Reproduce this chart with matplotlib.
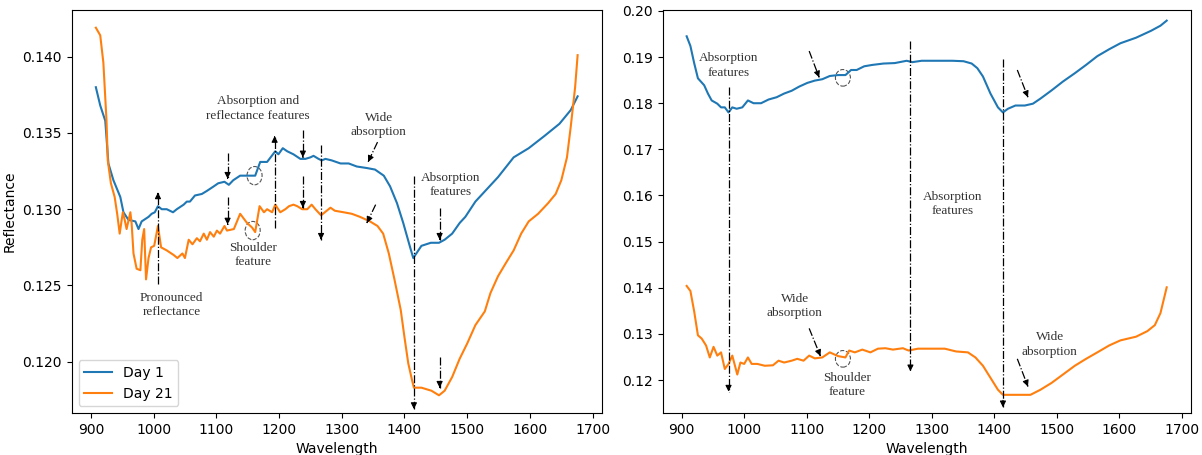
import matplotlib
matplotlib.use("Agg")
from matplotlib import pyplot as plt
from matplotlib.patches import Ellipse

# ---- left panel: spectra ----
wl_l1 = [908, 915, 923, 928, 936, 947, 952, 960, 971, 976, 981, 992, 997, 1002,
         1007, 1013, 1021, 1031, 1037, 1048, 1053, 1058, 1066, 1077, 1085, 1096,
         1103, 1113, 1120, 1127, 1138, 1148, 1156, 1162, 1170, 1181, 1194, 1199,
         1206, 1213, 1223, 1234, 1242, 1250, 1255, 1263, 1268, 1274, 1284, 1298,
         1311, 1324, 1340, 1353, 1367, 1377, 1388, 1398, 1409, 1414, 1427, 1442,
         1455, 1464, 1476, 1488, 1497, 1513, 1531, 1549, 1574, 1598, 1623, 1647,
         1665, 1676]
day1_l = [0.1380, 0.1368, 0.1358, 0.1330, 0.1319, 0.1308, 0.1298, 0.1293, 0.1292,
          0.1287, 0.1292, 0.1295, 0.1297, 0.1298, 0.1302, 0.1300, 0.1300, 0.1298,
          0.1300, 0.1303, 0.1305, 0.1305, 0.1309, 0.1310, 0.1312, 0.1315, 0.1317,
          0.1318, 0.1316, 0.1319, 0.1322, 0.1322, 0.1322, 0.1322, 0.1331, 0.1331,
          0.1338, 0.1336, 0.1340, 0.1338, 0.1336, 0.1333, 0.1333, 0.1334, 0.1335,
          0.1333, 0.1332, 0.1333, 0.1332, 0.1330, 0.1330, 0.1328, 0.1327, 0.1326,
          0.1322, 0.1315, 0.1304, 0.1291, 0.1275, 0.1268, 0.1276, 0.1278, 0.1278,
          0.1280, 0.1284, 0.1291, 0.1295, 0.1305, 0.1313, 0.1321, 0.1334, 0.1340,
          0.1348, 0.1356, 0.1365, 0.1374]

wl_l21 = [908, 915, 920, 925, 927, 932, 938, 942, 946, 951, 954, 957, 963, 965,
          968, 973, 979, 982, 985, 988, 992, 996, 1001, 1007, 1012, 1021, 1032,
          1038, 1046, 1050, 1056, 1062, 1069, 1074, 1080, 1085, 1090, 1096, 1101,
          1106, 1113, 1117, 1128, 1138, 1149, 1157, 1162, 1169, 1176, 1181, 1189,
          1194, 1202, 1210, 1216, 1223, 1229, 1237, 1245, 1252, 1258, 1267, 1276,
          1282, 1289, 1303, 1316, 1329, 1345, 1357, 1366, 1375, 1384, 1394, 1400,
          1406, 1412, 1415, 1427, 1443, 1455, 1464, 1476, 1488, 1500, 1513, 1528,
          1537, 1549, 1562, 1574, 1586, 1598, 1613, 1629, 1641, 1650, 1659, 1665,
          1672, 1676]
day21_l = [0.1419, 0.1414, 0.1396, 0.1358, 0.1332, 0.1317, 0.1308, 0.1297, 0.1284,
           0.1298, 0.1293, 0.1287, 0.1298, 0.1291, 0.1271, 0.1261, 0.1260, 0.1280,
           0.1287, 0.1254, 0.1268, 0.1275, 0.1276, 0.1289, 0.1275, 0.1273, 0.1270,
           0.1268, 0.1271, 0.1268, 0.1280, 0.1277, 0.1281, 0.1279, 0.1284, 0.1280,
           0.1285, 0.1282, 0.1286, 0.1284, 0.1289, 0.1286, 0.1287, 0.1297, 0.1291,
           0.1288, 0.1285, 0.1302, 0.1298, 0.1300, 0.1298, 0.1303, 0.1298, 0.1300,
           0.1302, 0.1303, 0.1302, 0.1300, 0.1300, 0.1303, 0.1300, 0.1296, 0.1299,
           0.1301, 0.1299, 0.1298, 0.1297, 0.1295, 0.1292, 0.1289, 0.1284, 0.1271,
           0.1254, 0.1234, 0.1216, 0.1199, 0.1188, 0.1183, 0.1183, 0.1181, 0.1178,
           0.1181, 0.1190, 0.1202, 0.1212, 0.1224, 0.1233, 0.1245, 0.1256, 0.1265,
           0.1273, 0.1284, 0.1292, 0.1297, 0.1304, 0.1310, 0.1319, 0.1334, 0.1354,
           0.1380, 0.1401]

# ---- right panel ----
wl_r1 = [908, 914, 920, 926, 936, 942, 948, 957, 963, 969, 975, 981, 988, 997,
         1006, 1015, 1027, 1039, 1052, 1064, 1076, 1088, 1101, 1113, 1125, 1137,
         1150, 1162, 1167, 1171, 1180, 1192, 1205, 1223, 1241, 1260, 1269, 1284,
         1309, 1333, 1351, 1364, 1373, 1382, 1394, 1406, 1414, 1422, 1434, 1449,
         1462, 1474, 1492, 1510, 1529, 1547, 1565, 1584, 1602, 1627, 1651, 1666,
         1676]
day1_r = [0.1945, 0.1924, 0.1887, 0.1854, 0.1839, 0.1821, 0.1806, 0.1799, 0.1791,
          0.1791, 0.1780, 0.1791, 0.1788, 0.1791, 0.1806, 0.1800, 0.1800, 0.1808,
          0.1813, 0.1821, 0.1827, 0.1836, 0.1844, 0.1849, 0.1852, 0.1859, 0.1861,
          0.1861, 0.1867, 0.1872, 0.1872, 0.1880, 0.1883, 0.1886, 0.1887, 0.1892,
          0.1889, 0.1892, 0.1892, 0.1892, 0.1891, 0.1886, 0.1876, 0.1858, 0.1821,
          0.1791, 0.1780, 0.1788, 0.1795, 0.1795, 0.1799, 0.1810, 0.1828, 0.1847,
          0.1865, 0.1883, 0.1902, 0.1917, 0.1930, 0.1942, 0.1957, 0.1968, 0.1979]

wl_r21 = [908, 914, 920, 926, 932, 939, 945, 951, 957, 963, 969, 975, 981, 989,
          994, 1000, 1006, 1012, 1021, 1033, 1046, 1055, 1064, 1076, 1085, 1095,
          1104, 1113, 1125, 1137, 1150, 1162, 1168, 1177, 1189, 1202, 1214, 1226,
          1238, 1254, 1263, 1278, 1302, 1321, 1339, 1358, 1370, 1382, 1394, 1406,
          1414, 1425, 1443, 1458, 1474, 1492, 1510, 1529, 1547, 1565, 1584, 1602,
          1627, 1645, 1657, 1666, 1676]
day21_r = [0.1404, 0.1393, 0.1349, 0.1297, 0.1290, 0.1275, 0.1249, 0.1272, 0.1253,
           0.1260, 0.1224, 0.1235, 0.1253, 0.1212, 0.1238, 0.1235, 0.1249, 0.1235,
           0.1235, 0.1231, 0.1232, 0.1242, 0.1238, 0.1242, 0.1246, 0.1242, 0.1253,
           0.1247, 0.1249, 0.1260, 0.1252, 0.1249, 0.1264, 0.1260, 0.1266, 0.1260,
           0.1268, 0.1269, 0.1266, 0.1269, 0.1264, 0.1268, 0.1268, 0.1268, 0.1262,
           0.1260, 0.1249, 0.1231, 0.1205, 0.1179, 0.1168, 0.1168, 0.1168, 0.1168,
           0.1179, 0.1194, 0.1212, 0.1231, 0.1246, 0.1260, 0.1275, 0.1286, 0.1294,
           0.1306, 0.1319, 0.1345, 0.1401]

# annotation layout: (x0, y0, x1, y1) arrows, texts, circles
arrows_l = [(1007, 0.1251, 1007, 0.1311), (1118, 0.1337, 1118, 0.1320),
            (1118, 0.1308, 1118, 0.1290), (1193, 0.1288, 1193, 0.1348),
            (1238, 0.1352, 1238, 0.1334), (1238, 0.1322, 1238, 0.1301),
            (1267, 0.1342, 1267, 0.1280), (1357, 0.1344, 1342, 0.1331),
            (1354, 0.1303, 1340, 0.1291), (1415, 0.1322, 1415, 0.1169),
            (1456, 0.1301, 1456, 0.1280), (1456, 0.1203, 1456, 0.1183)]
texts_l = [(1029, 0.1237, "Pronounced\nreflectance"),
           (1166, 0.1366, "Absorption and\nreflectance features"),
           (1158, 0.1270, "Shoulder\nfeature"),
           (1359, 0.1355, "Wide\nabsorption"),
           (1473, 0.1316, "Absorption\nfeatures")]
circles_l = [(1161, 0.1322, 0.0012), (1158, 0.1286, 0.0012)]

arrows_r = [(975, 0.1836, 975, 0.1175), (1104, 0.1913, 1120, 0.1856),
            (1266, 0.1935, 1266, 0.1219), (1414, 0.1895, 1414, 0.1141),
            (1437, 0.1872, 1454, 0.1813), (1104, 0.1312, 1122, 0.1252),
            (1437, 0.1246, 1454, 0.1186)]
texts_r = [(975, 0.1882, "Absorption\nfeatures"),
           (1334, 0.1581, "Absorption\nfeatures"),
           (1081, 0.1360, "Wide\nabsorption"),
           (1164, 0.1190, "Shoulder\nfeature"),
           (1489, 0.1277, "Wide\nabsorption")]
circles_r = [(1158, 0.1855, 0.0036), (1158, 0.1246, 0.0036)]


def annotate_panel(ax, arrows, texts, circles):
    for x0, y0, x1, y1 in arrows:
        ax.plot([x0, x1], [y0, y1], color='k', lw=0.9, ls='-.')
        xs = x1 - (x1 - x0) * 0.02
        ys = y1 - (y1 - y0) * 0.02
        ax.annotate('', xy=(x1, y1), xytext=(xs, ys),
                    arrowprops=dict(arrowstyle='-|>', color='k', lw=0.8,
                                    mutation_scale=9, shrinkA=0, shrinkB=0))
    for x, y, s in texts:
        ax.text(x, y, s, ha='center', va='center', fontsize=9.5,
                family='Liberation Serif', color='#333333', linespacing=1.25)
    for x, y, h in circles:
        ax.add_patch(Ellipse((x, y), 24, h, fill=False, ls='--',
                             ec='#555555', lw=0.8))


fig = plt.figure(figsize=(12.02, 4.55), dpi=100)
ax1 = fig.add_axes([0.0597, 0.0923, 0.4409, 0.8857])
ax2 = fig.add_axes([0.5513, 0.0923, 0.4393, 0.8857])

ax1.plot(wl_l1, day1_l, label='Day 1')
ax1.plot(wl_l21, day21_l, label='Day 21')
ax1.set_xlabel('Wavelength')
ax1.set_ylabel('Reflectance')
ax1.set_xticks([900, 1000, 1100, 1200, 1300, 1400, 1500, 1600, 1700])
ax1.set_yticks([0.120, 0.125, 0.130, 0.135, 0.140])
ax1.set_xlim(869.6, 1714.4)
ax1.set_ylim(0.11664, 0.14306)
ax1.legend(loc='lower left')
annotate_panel(ax1, arrows_l, texts_l, circles_l)

ax2.plot(wl_r1, day1_r)
ax2.plot(wl_r21, day21_r)
ax2.set_xlabel('Wavelength')
ax2.set_xticks([900, 1000, 1100, 1200, 1300, 1400, 1500, 1600, 1700])
ax2.set_xlim(869.6, 1714.4)
ax2.set_ylim(0.11286, 0.2002)
annotate_panel(ax2, arrows_r, texts_r, circles_r)

fig.savefig('out.png', dpi=100)
